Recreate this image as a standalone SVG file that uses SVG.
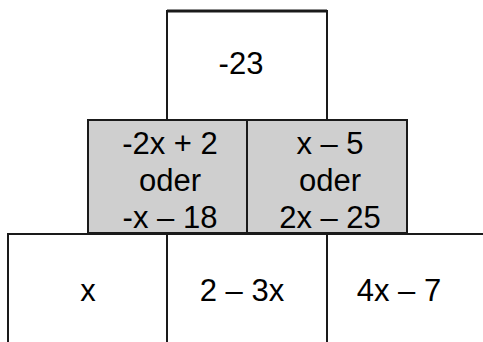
<svg xmlns="http://www.w3.org/2000/svg" width="483" height="342" viewBox="0 0 483 342">
<style>
.b{fill:#ffffff;stroke:#1a1a1a;stroke-width:2}
.g{fill:#cfcfcf;stroke:#1a1a1a;stroke-width:2}
text{font-family:"Liberation Sans",Arial,sans-serif;font-size:31px;fill:#000;text-anchor:middle}
</style>
<rect width="483" height="342" fill="#fff"/>
<g id="top">
<rect class="b" x="167" y="11" width="160" height="109"/>
<line x1="167" y1="11" x2="327" y2="11" stroke="#1a1a1a" stroke-width="3"/>
<text x="241" y="74">-23</text>
</g>
<g id="mid-left">
<rect class="g" x="88" y="120" width="159" height="113"/>
<text x="170" y="154">-2x + 2</text>
<text x="170" y="191">oder</text>
<text x="170" y="228">-x – 18</text>
</g>
<g id="mid-right">
<rect class="g" x="247" y="120" width="160" height="113"/>
<text x="330" y="154">x – 5</text>
<text x="330" y="191">oder</text>
<text x="330" y="228">2x – 25</text>
</g>
<g id="bot-left">
<path class="b" d="M8 345 V234 H167 V345"/>
<text x="88" y="301">x</text>
</g>
<g id="bot-mid">
<path class="b" d="M167 345 V234 H327 V345"/>
<text x="242" y="301">2 – 3x</text>
</g>
<g id="bot-right">
<path class="b" d="M327 345 V234 H490"/>
<text x="399" y="301">4x – 7</text>
</g>
<g id="connectors"/>
</svg>
